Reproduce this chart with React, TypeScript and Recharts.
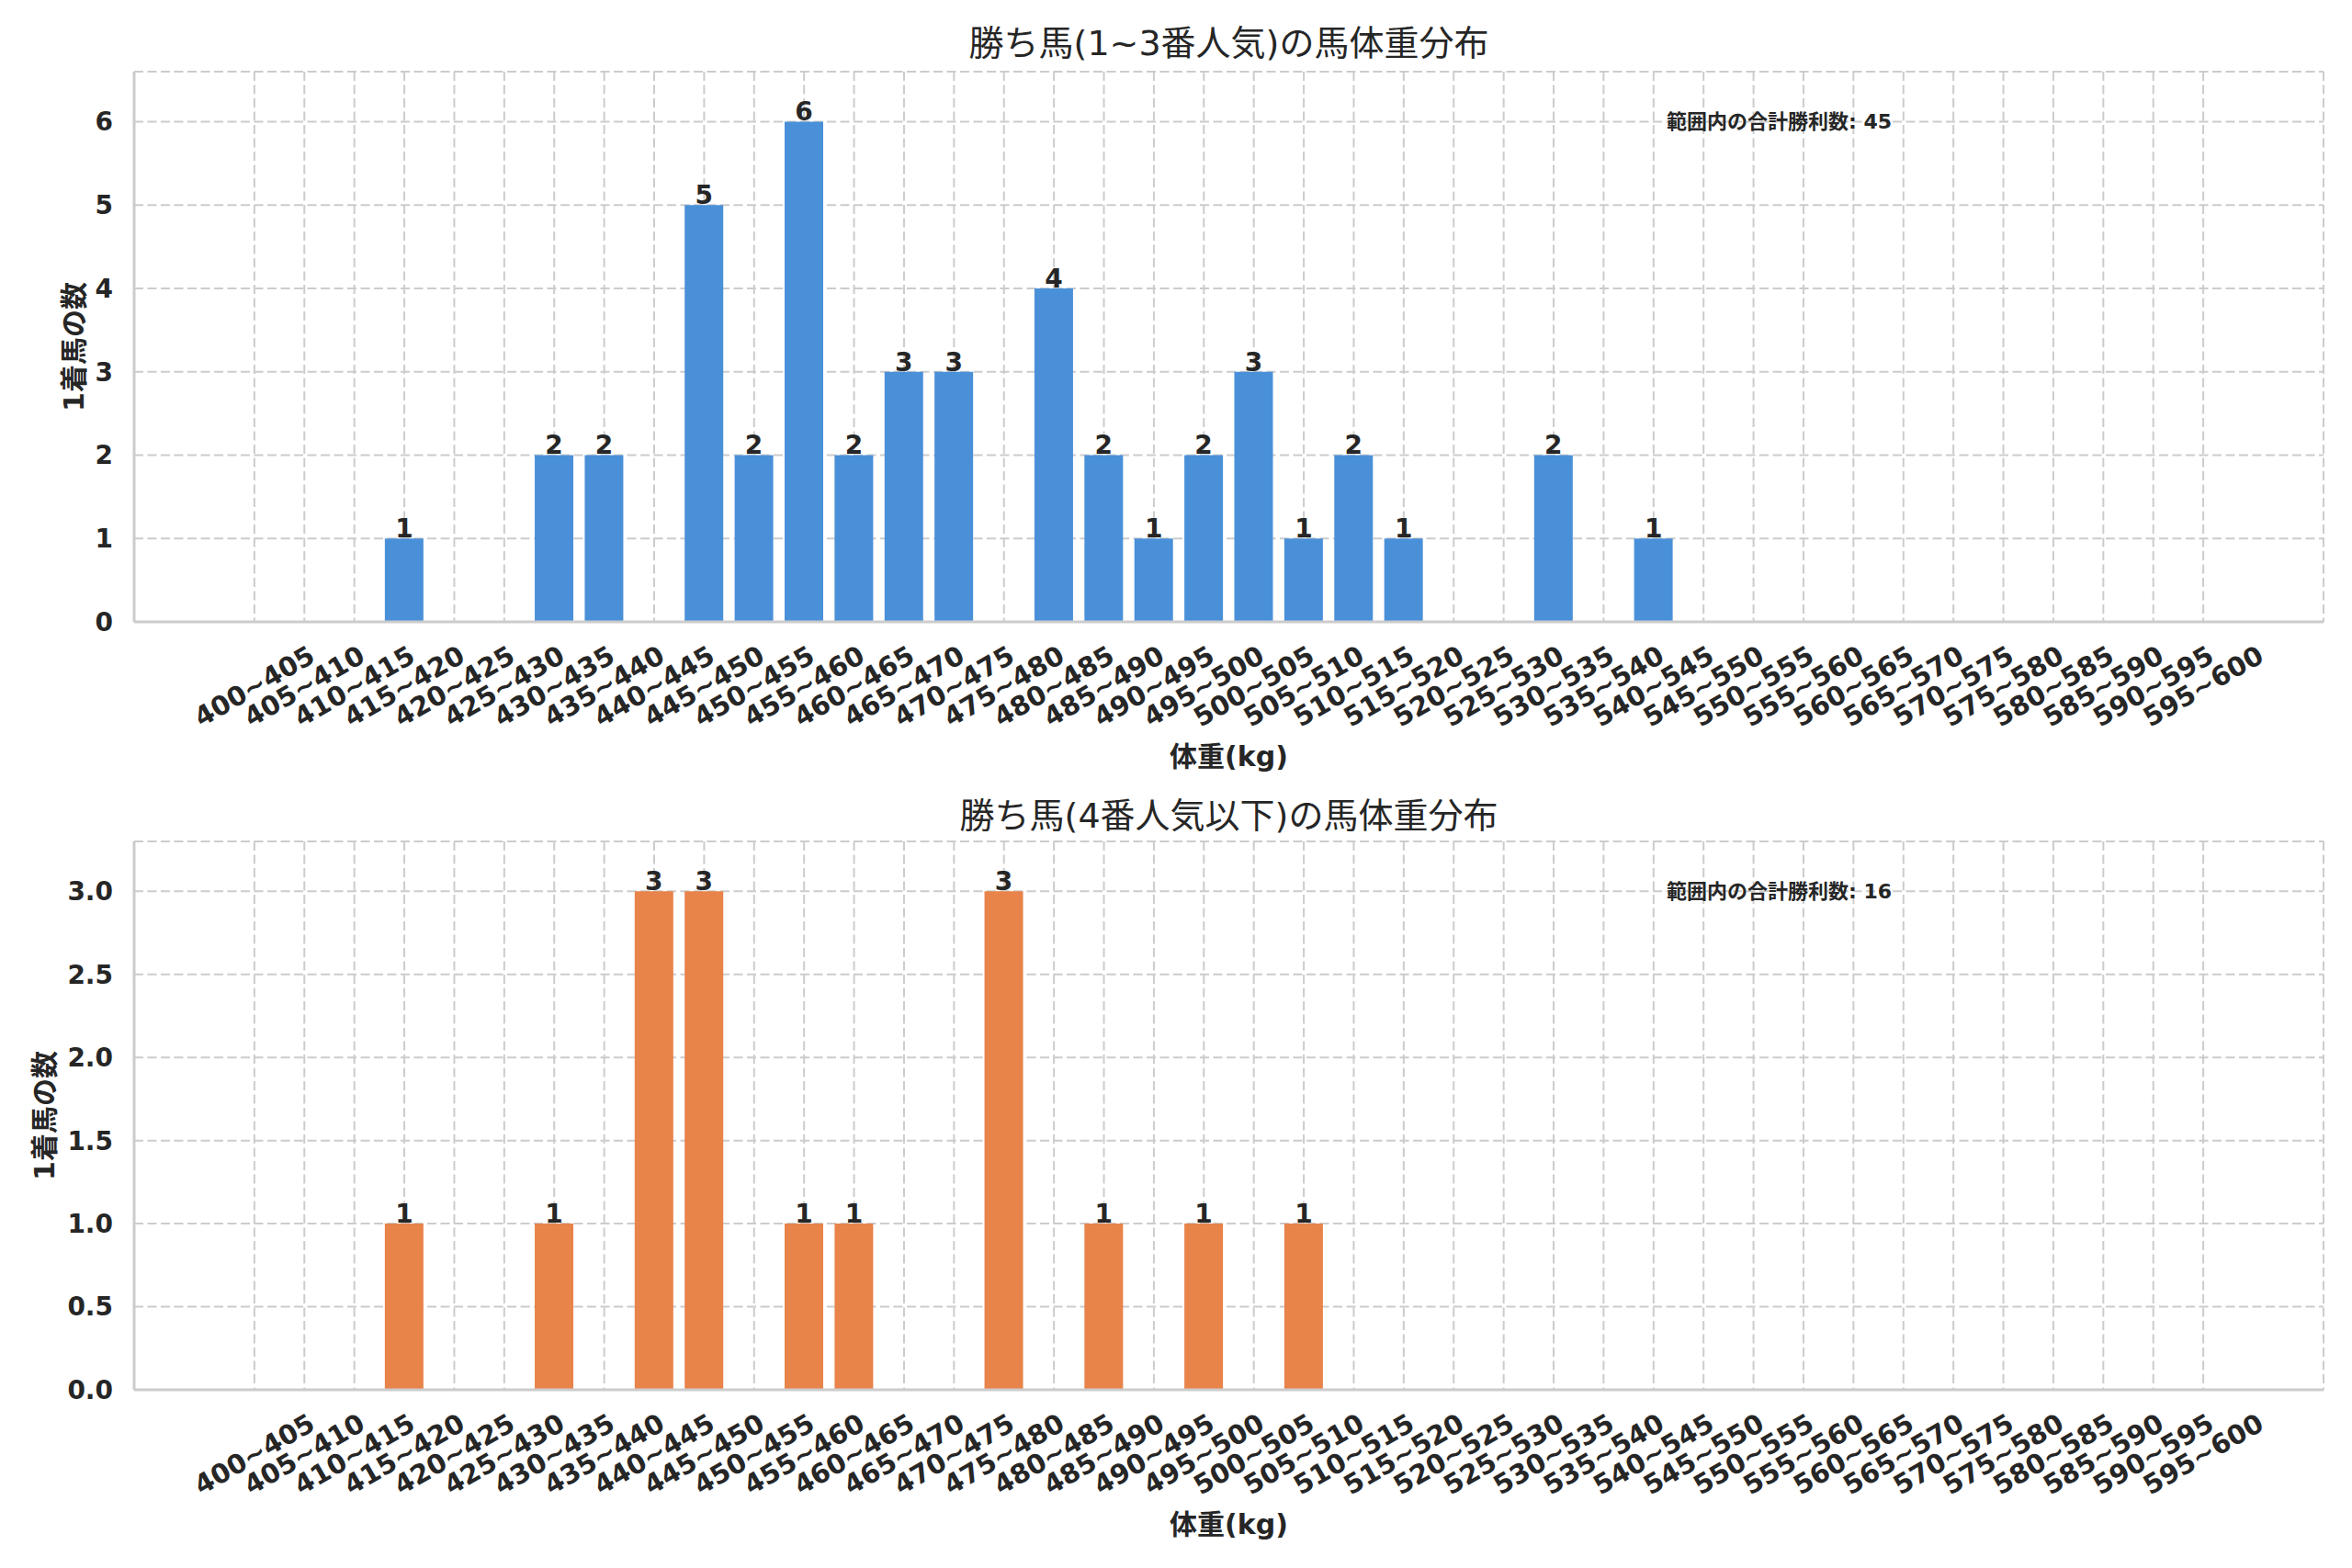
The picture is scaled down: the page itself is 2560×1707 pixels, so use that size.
import React from 'react';
import { BarChart, Bar, XAxis, YAxis, CartesianGrid, LabelList, ReferenceLine } from 'recharts';

const bins = [
  '400~405', '405~410', '410~415', '415~420', '420~425', '425~430', '430~435', '435~440',
  '440~445', '445~450', '450~455', '455~460', '460~465', '465~470', '470~475', '475~480',
  '480~485', '485~490', '490~495', '495~500', '500~505', '505~510', '510~515', '515~520',
  '520~525', '525~530', '530~535', '535~540', '540~545', '545~550', '550~555', '555~560',
  '560~565', '565~570', '570~575', '575~580', '580~585', '585~590', '590~595', '595~600',
];

const topCounts = [
  0, 0, 0, 1, 0, 0, 2, 2, 0, 5,
  2, 6, 2, 3, 3, 0, 4, 2, 1, 2,
  3, 1, 2, 1, 0, 0, 2, 0, 1, 0,
  0, 0, 0, 0, 0, 0, 0, 0, 0, 0,
];

const bottomCounts = [
  0, 0, 0, 1, 0, 0, 1, 0, 3, 3,
  0, 1, 1, 0, 0, 3, 0, 1, 0, 1,
  0, 1, 0, 0, 0, 0, 0, 0, 0, 0,
  0, 0, 0, 0, 0, 0, 0, 0, 0, 0,
];

const topTicks = [0, 1, 2, 3, 4, 5, 6];
const bottomTicks = [0, 0.5, 1.0, 1.5, 2.0, 2.5, 3.0];

const topTitle = '勝ち馬(1~3番人気)の馬体重分布';
const bottomTitle = '勝ち馬(4番人気以下)の馬体重分布';
const xLabel = '体重(kg)';
const yLabel = '1着馬の数';
const noteLabel = '範囲内の合計勝利数';

const FONT = "'DejaVu Sans', 'Noto Sans CJK JP', sans-serif";
const TEXT = '#262626';
const EDGE = '#cccccc';
const W = 2560;
const LEFT = 146;
const RIGHT = 31;
const PLOT_W = W - LEFT - RIGHT;

type PanelProps = {
  title: string;
  counts: number[];
  color: string;
  yMax: number;
  yTicks: number[];
  yFmt: (v: number) => string;
  yLabelX: number;
  titleGap: number;
  height: number;
  marginTop: number;
  xAxisHeight: number;
};

const XTick = (props: any) => {
  const { x, y, payload } = props;
  return (
    <g transform={`translate(${x},${y + 68})`}>
      <text
        transform="rotate(-30)"
        textAnchor="middle"
        dominantBaseline="central"
        fontSize={29}
        fontWeight="bold"
        fill={TEXT}
        fontFamily={FONT}
      >
        {payload.value}
      </text>
    </g>
  );
};

const Panel = (p: PanelProps) => {
  const data = bins.map((b, i) => ({ bin: b, count: p.counts[i] }));
  const total = p.counts.reduce((a, b) => a + b, 0);
  const maxVal = Math.max(...p.counts);
  return (
    <BarChart
      width={W}
      height={p.height}
      data={data}
      margin={{ top: p.marginTop, right: RIGHT, left: 0, bottom: 0 }}
    >
      <CartesianGrid stroke={EDGE} strokeWidth={2} strokeDasharray="10 4.5" />
      <XAxis
        dataKey="bin"
        interval={0}
        height={p.xAxisHeight}
        padding={{ left: 103.7, right: 103.7 }}
        tickSize={0}
        tickLine={false}
        axisLine={{ stroke: EDGE, strokeWidth: 3 }}
        tick={<XTick />}
        label={{
          content: (lp: any) => {
            const vb = lp.viewBox;
            return (
              <text
                x={vb.x + vb.width / 2}
                y={vb.y + 146}
                textAnchor="middle"
                dominantBaseline="central"
                fontSize={30}
                fontWeight="bold"
                fill={TEXT}
                fontFamily={FONT}
              >
                {xLabel}
              </text>
            );
          },
        }}
      />
      <XAxis
        xAxisId="top"
        dataKey="bin"
        orientation="top"
        height={0}
        tick={false}
        tickLine={false}
        axisLine={{ stroke: EDGE, strokeWidth: 3 }}
      />
      <YAxis
        width={LEFT}
        type="number"
        domain={[0, p.yMax]}
        ticks={p.yTicks}
        tickFormatter={p.yFmt}
        tickSize={0}
        tickMargin={23}
        tickLine={false}
        axisLine={{ stroke: EDGE, strokeWidth: 3 }}
        tick={{ fontSize: 28, fontWeight: 'bold', fill: TEXT, fontFamily: FONT }}
        label={{
          content: (lp: any) => {
            const vb = lp.viewBox;
            const x = vb.x + p.yLabelX;
            const y = vb.y + vb.height / 2;
            return (
              <text
                x={x}
                y={y}
                transform={`rotate(-90 ${x} ${y})`}
                textAnchor="middle"
                dominantBaseline="central"
                fontSize={30}
                fontWeight="bold"
                fill={TEXT}
                fontFamily={FONT}
              >
                {yLabel}
              </text>
            );
          },
        }}
      />
      <YAxis
        yAxisId="right"
        orientation="right"
        width={0}
        type="number"
        domain={[0, 1]}
        tick={false}
        tickLine={false}
        axisLine={{ stroke: EDGE, strokeWidth: 3 }}
      />
      <Bar dataKey="count" fill={p.color} barSize={42} isAnimationActive={false}>
        <LabelList
          dataKey="count"
          position="top"
          offset={1}
          formatter={(v: any) => (v > 0 ? String(v) : '')}
          style={{ fontSize: 28, fontWeight: 'bold', fill: TEXT, fontFamily: FONT }}
        />
      </Bar>
      <ReferenceLine
        y={maxVal}
        stroke="none"
        ifOverflow="visible"
        label={{
          content: (lp: any) => {
            const vb = lp.viewBox;
            return (
              <text
                x={LEFT + 0.7 * PLOT_W}
                y={vb.y}
                dominantBaseline="central"
                fontSize={22}
                fontWeight="bold"
                fill={TEXT}
                fontFamily={FONT}
              >
                {`${noteLabel}: ${total}`}
              </text>
            );
          },
        }}
      />
      <ReferenceLine
        y={p.yMax}
        stroke="none"
        ifOverflow="visible"
        label={{
          content: (lp: any) => {
            const vb = lp.viewBox;
            return (
              <text
                x={LEFT + PLOT_W / 2}
                y={vb.y - p.titleGap}
                textAnchor="middle"
                dominantBaseline="central"
                fontSize={38}
                fill={TEXT}
                fontFamily={FONT}
              >
                {p.title}
              </text>
            );
          },
        }}
      />
    </BarChart>
  );
};

export default function App() {
  return (
    <div style={{ width: W, height: 1707, background: '#ffffff', fontFamily: FONT }}>
      <style>{`body{margin:0;}`}</style>
      <Panel
        title={topTitle}
        counts={topCounts}
        color="#4a90d9"
        yMax={6.6}
        yTicks={topTicks}
        yFmt={(v) => String(v)}
        yLabelX={80}
        titleGap={31}
        height={853}
        marginTop={78}
        xAxisHeight={176}
      />
      <Panel
        title={bottomTitle}
        counts={bottomCounts}
        color="#e8834a"
        yMax={3.3}
        yTicks={bottomTicks}
        yFmt={(v) => v.toFixed(1)}
        yLabelX={48}
        titleGap={28}
        height={854}
        marginTop={63}
        xAxisHeight={194}
      />
    </div>
  );
}
